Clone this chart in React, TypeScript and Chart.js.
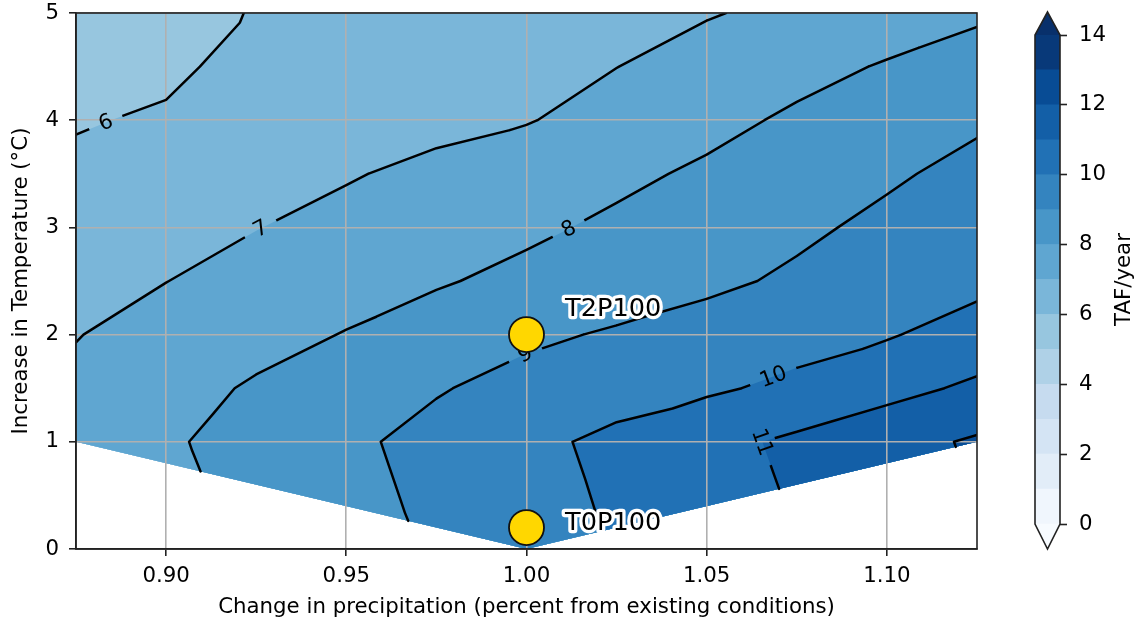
import React, { useEffect, useRef } from "react";
import { Chart, registerables } from "chart.js";

Chart.register(...registerables);

// ---------------- data ----------------
// Precipitation factors (x) and temperature increases (y) of the grid nodes
const precipNodes = [0.875, 0.9, 0.925, 0.95, 0.975, 1.0, 1.025, 1.05, 1.075, 1.1, 1.125];
const tempNodes = [1, 1.5, 2, 2.5, 3, 3.5, 4, 4.5, 5];

// TAF/year at each node, one array per temperature row
const tafT1_0 = [7.40, 7.88, 8.35, 8.82, 9.29, 9.76, 10.23, 10.71, 11.18, 11.65, 12.12];
const tafT1_5 = [7.18, 7.65, 8.11, 8.52, 8.93, 9.31, 9.60, 9.86, 10.22, 10.70, 11.17];
const tafT2_0 = [6.97, 7.33, 7.68, 8.04, 8.40, 8.83, 9.10, 9.36, 9.64, 9.92, 10.42];
const tafT2_5 = [6.70, 6.99, 7.30, 7.61, 7.92, 8.22, 8.52, 8.82, 9.14, 9.51, 9.74];
const tafT3_0 = [6.44, 6.71, 6.98, 7.26, 7.55, 7.84, 8.16, 8.50, 8.84, 9.19, 9.56];
const tafT3_5 = [6.19, 6.44, 6.69, 6.93, 7.22, 7.52, 7.81, 8.14, 8.51, 8.88, 9.24];
const tafT4_0 = [5.93, 6.11, 6.34, 6.55, 6.76, 6.95, 7.36, 7.75, 8.14, 8.51, 8.88];
const tafT4_5 = [5.68, 5.82, 6.30, 6.38, 6.57, 6.78, 6.99, 7.36, 7.73, 8.07, 8.37];
const tafT5_0 = [5.43, 5.75, 6.04, 6.22, 6.40, 6.58, 6.76, 6.94, 7.22, 7.54, 7.87];

// Existing conditions scenario (no warming, 100% precipitation)
const baseP = 1.0;
const baseT = 0;
const baseTaf = 9.57;

// Contour levels (filled bands and lines)
const contourLevels = [0, 1, 2, 3, 4, 5, 6, 7, 8, 9, 10, 11, 12, 13, 14];

// Contour labels: level and approximate anchor (data coordinates)
const labelLevels = [6, 7, 8, 9, 10, 11];
const labelP = [0.883, 0.926, 1.013, 1.0, 1.069, 1.0648];
const labelT = [4.0, 3.0, 2.9, 1.79, 1.56, 0.99];

// Scenario markers
const scenarioNames = ["T2P100", "T0P100"];
const scenarioP = [1.0, 1.0];
const scenarioT = [2.0, 0.2];
const scenarioTextP = [1.0107, 1.0107];
const scenarioTextT = [2.17, 0.18];

// Axis ticks
const xTicks = [0.9, 0.95, 1.0, 1.05, 1.1];
const colorbarTicks = [0, 2, 4, 6, 8, 10, 12, 14];

const xTitle = "Change in precipitation (percent from existing conditions)";
const yTitle = "Increase in Temperature (°C)";
const cbTitle = "TAF/year";

// ---------------- style ----------------
const FONT = '"DejaVu Sans", "Liberation Sans", sans-serif';
const FS = 21.3;
const BLUES = [
  [247, 251, 255], [222, 235, 247], [198, 219, 239], [158, 202, 225], [107, 174, 214],
  [66, 146, 198], [33, 113, 181], [8, 81, 156], [8, 48, 107],
];
function blues(t: number) {
  const c = Math.max(0, Math.min(1, t)) * (BLUES.length - 1);
  const i = Math.min(BLUES.length - 2, Math.floor(c));
  const f = c - i;
  const a = BLUES[i], b = BLUES[i + 1];
  const r = Math.round(a[0] + (b[0] - a[0]) * f);
  const g = Math.round(a[1] + (b[1] - a[1]) * f);
  const bb = Math.round(a[2] + (b[2] - a[2]) * f);
  return `rgb(${r},${g},${bb})`;
}
const lvMin = contourLevels[0];
const lvMax = contourLevels[contourLevels.length - 1];
function bandColor(k: number) {
  const mid = (contourLevels[k] + contourLevels[k + 1]) / 2;
  return blues((mid - lvMin) / (lvMax - lvMin));
}

// ---------------- triangulated field ----------------
type N = { x: number; y: number; v: number };
function buildTriangles(): N[][] {
  const rows = [tafT1_0, tafT1_5, tafT2_0, tafT2_5, tafT3_0, tafT3_5, tafT4_0, tafT4_5, tafT5_0];
  const nodes = rows.map((row, i) => row.map((v, j) => ({ x: precipNodes[j], y: tempNodes[i], v })));
  const tris: N[][] = [];
  for (let i = 0; i < rows.length - 1; i++) {
    for (let j = 0; j < precipNodes.length - 1; j++) {
      const a = nodes[i][j], b = nodes[i][j + 1], c = nodes[i + 1][j + 1], d = nodes[i + 1][j];
      tris.push([a, b, c], [a, c, d]);
    }
  }
  const base = { x: baseP, y: baseT, v: baseTaf };
  for (let j = 0; j < precipNodes.length - 1; j++) {
    tris.push([base, nodes[0][j + 1], nodes[0][j]]);
  }
  return tris;
}

function clipAbove(poly: N[], level: number): N[] {
  const out: N[] = [];
  for (let i = 0; i < poly.length; i++) {
    const a = poly[i], b = poly[(i + 1) % poly.length];
    const ina = a.v >= level, inb = b.v >= level;
    if (ina) out.push(a);
    if (ina !== inb) {
      const f = (level - a.v) / (b.v - a.v);
      out.push({ x: a.x + f * (b.x - a.x), y: a.y + f * (b.y - a.y), v: level });
    }
  }
  return out;
}

function levelSegments(tris: N[][], level: number) {
  const segs: { x: number; y: number }[][] = [];
  for (const t of tris) {
    const pts: { x: number; y: number }[] = [];
    for (let i = 0; i < 3; i++) {
      const p = t[i], q = t[(i + 1) % 3];
      if ((p.v < level) !== (q.v < level)) {
        const f = (level - p.v) / (q.v - p.v);
        pts.push({ x: p.x + f * (q.x - p.x), y: p.y + f * (q.y - p.y) });
      }
    }
    if (pts.length === 2) segs.push(pts);
  }
  return segs;
}

const TRIS = buildTriangles();

const contourPlugin = {
  id: "contourField",
  beforeDraw(chart: any) {
    const { ctx, chartArea: a, scales } = chart;
    const sx = scales.x, sy = scales.y;
    ctx.save();
    ctx.beginPath();
    ctx.rect(a.left, a.top, a.right - a.left, a.bottom - a.top);
    ctx.clip();
    for (let k = 0; k < contourLevels.length - 1; k++) {
      const lo = contourLevels[k];
      ctx.beginPath();
      for (const tri of TRIS) {
        const poly = clipAbove(tri, lo);
        if (poly.length < 3) continue;
        poly.forEach((p, i) => {
          const px = sx.getPixelForValue(p.x), py = sy.getPixelForValue(p.y);
          if (i === 0) ctx.moveTo(px, py);
          else ctx.lineTo(px, py);
        });
        ctx.closePath();
      }
      ctx.fillStyle = bandColor(k);
      ctx.fill();
    }
    ctx.restore();
  },
  beforeDatasetsDraw(chart: any) {
    const { ctx, chartArea: a, scales } = chart;
    const sx = scales.x, sy = scales.y;
    const toPx = (p: { x: number; y: number }) => ({ x: sx.getPixelForValue(p.x), y: sy.getPixelForValue(p.y) });
    const segsByLevel = contourLevels.map((lv) => levelSegments(TRIS, lv).map((s) => [toPx(s[0]), toPx(s[1])]));

    ctx.save();
    ctx.font = `${FS}px ${FONT}`;
    const labels = labelLevels.map((lv, i) => {
      const segs = segsByLevel[contourLevels.indexOf(lv)];
      const px = sx.getPixelForValue(labelP[i]), py = sy.getPixelForValue(labelT[i]);
      let best = { d: Infinity, x: px, y: py, ang: 0 };
      for (const [p, q] of segs) {
        const dx = q.x - p.x, dy = q.y - p.y;
        const L2 = dx * dx + dy * dy;
        if (L2 === 0) continue;
        let t = ((px - p.x) * dx + (py - p.y) * dy) / L2;
        t = Math.max(0, Math.min(1, t));
        const cx = p.x + t * dx, cy = p.y + t * dy;
        const d = Math.hypot(cx - px, cy - py);
        if (d < best.d) {
          let ang = Math.atan2(dy, dx);
          if (ang > Math.PI / 2) ang -= Math.PI;
          if (ang <= -Math.PI / 2) ang += Math.PI;
          best = { d, x: cx, y: cy, ang };
        }
      }
      const text = String(lv);
      const w = ctx.measureText(text).width;
      return { text, x: best.x, y: best.y, ang: best.ang, hw: w / 2 + 11, hh: 13 };
    });

    // clip out label gaps
    ctx.beginPath();
    ctx.rect(a.left - 5, a.top - 5, a.right - a.left + 10, a.bottom - a.top + 10);
    for (const l of labels) {
      const c = Math.cos(l.ang), s = Math.sin(l.ang);
      const corners = [[-l.hw, -l.hh], [l.hw, -l.hh], [l.hw, l.hh], [-l.hw, l.hh]].map(([u, v]) => [l.x + u * c - v * s, l.y + u * s + v * c]);
      ctx.moveTo(corners[0][0], corners[0][1]);
      for (let i = 1; i < 4; i++) ctx.lineTo(corners[i][0], corners[i][1]);
      ctx.closePath();
    }
    ctx.clip("evenodd");
    ctx.beginPath();
    ctx.rect(a.left, a.top, a.right - a.left, a.bottom - a.top);
    ctx.clip();
    ctx.strokeStyle = "#000";
    ctx.lineWidth = 2.5;
    ctx.lineCap = "round";
    ctx.lineJoin = "round";
    ctx.beginPath();
    for (const segs of segsByLevel) {
      for (const [p, q] of segs) {
        ctx.moveTo(p.x, p.y);
        ctx.lineTo(q.x, q.y);
      }
    }
    ctx.stroke();
    ctx.restore();

    ctx.save();
    ctx.font = `${FS}px ${FONT}`;
    ctx.fillStyle = "#000";
    ctx.textAlign = "center";
    ctx.textBaseline = "middle";
    for (const l of labels) {
      ctx.save();
      ctx.translate(l.x, l.y);
      ctx.rotate(l.ang);
      ctx.fillText(l.text, 0, 1);
      ctx.restore();
    }
    ctx.restore();
  },
  afterDatasetsDraw(chart: any) {
    const { ctx, chartArea: a, scales } = chart;
    const sx = scales.x, sy = scales.y;
    ctx.save();
    ctx.strokeStyle = "#222";
    ctx.lineWidth = 1.6;
    ctx.strokeRect(a.left, a.top, a.right - a.left, a.bottom - a.top);
    ctx.font = `25.6px ${FONT}`;
    ctx.textAlign = "left";
    ctx.textBaseline = "alphabetic";
    ctx.lineJoin = "round";
    scenarioNames.forEach((name, i) => {
      const x = sx.getPixelForValue(scenarioTextP[i]);
      const y = sy.getPixelForValue(scenarioTextT[i]);
      ctx.strokeStyle = "#fff";
      ctx.lineWidth = 6.5;
      ctx.strokeText(name, x, y);
      ctx.fillStyle = "#000";
      ctx.fillText(name, x, y);
    });
    ctx.restore();
  },
};

const colorbarPlugin = {
  id: "colorbarExtras",
  afterDraw(chart: any) {
    const { ctx, chartArea: a } = chart;
    const mid = (a.left + a.right) / 2;
    const tipUp = 23, tipDown = 25;
    ctx.save();
    ctx.fillStyle = blues(1);
    ctx.beginPath();
    ctx.moveTo(a.left, a.top);
    ctx.lineTo(mid, a.top - tipUp);
    ctx.lineTo(a.right, a.top);
    ctx.closePath();
    ctx.fill();
    ctx.fillStyle = blues(0);
    ctx.beginPath();
    ctx.moveTo(a.left, a.bottom);
    ctx.lineTo(mid, a.bottom + tipDown);
    ctx.lineTo(a.right, a.bottom);
    ctx.closePath();
    ctx.fill();
    ctx.strokeStyle = "#222";
    ctx.lineWidth = 1.6;
    ctx.lineJoin = "miter";
    ctx.beginPath();
    ctx.moveTo(a.left, a.bottom);
    ctx.lineTo(a.left, a.top);
    ctx.lineTo(mid, a.top - tipUp);
    ctx.lineTo(a.right, a.top);
    ctx.lineTo(a.right, a.bottom);
    ctx.lineTo(mid, a.bottom + tipDown);
    ctx.closePath();
    ctx.stroke();
    ctx.font = `${FS}px ${FONT}`;
    ctx.fillStyle = "#000";
    ctx.textAlign = "center";
    ctx.textBaseline = "middle";
    ctx.translate(124, (a.top + a.bottom) / 2);
    ctx.rotate(-Math.PI / 2);
    ctx.fillText(cbTitle, 0, 0);
    ctx.restore();
  },
};

export default function App() {
  const mainRef = useRef<HTMLCanvasElement>(null);
  const cbRef = useRef<HTMLCanvasElement>(null);

  useEffect(() => {
    const tickFont = { family: FONT, size: FS };
    const main = new Chart(mainRef.current as HTMLCanvasElement, {
      type: "scatter",
      data: {
        datasets: [
          {
            data: scenarioP.map((p, i) => ({ x: p, y: scenarioT[i] })),
            pointRadius: 17.5,
            pointHoverRadius: 17.5,
            backgroundColor: "#FFD700",
            borderColor: "#111",
            borderWidth: 1.8,
            clip: false as any,
          },
        ],
      },
      options: {
        responsive: false,
        maintainAspectRatio: false,
        animation: false,
        devicePixelRatio: 1,
        events: [],
        layout: { autoPadding: false, padding: { left: 0, right: 23, top: 13, bottom: 0 } },
        plugins: { legend: { display: false }, tooltip: { enabled: false } },
        scales: {
          x: {
            type: "linear",
            min: 0.875,
            max: 1.125,
            afterBuildTicks: (axis: any) => {
              axis.ticks = xTicks.map((value) => ({ value }));
            },
            afterFit: (axis: any) => {
              axis.height = 74;
              axis.paddingLeft = 0;
              axis.paddingRight = 0;
            },
            ticks: {
              autoSkip: false,
              maxRotation: 0,
              padding: 8,
              color: "#000",
              font: tickFont,
              callback: (v: any) => Number(v).toFixed(2),
            },
            grid: { color: "#b0b0b0", lineWidth: 1.6, tickLength: 7, tickColor: "#222", tickWidth: 1.6 },
            border: { display: true, color: "#222", width: 1.6 },
            title: { display: true, text: xTitle, color: "#000", font: tickFont, padding: { top: 0, bottom: 3 } },
          },
          y: {
            type: "linear",
            min: 0,
            max: 5,
            afterFit: (axis: any) => {
              axis.width = 76;
              axis.paddingTop = 0;
              axis.paddingBottom = 0;
            },
            ticks: { stepSize: 1, padding: 10, color: "#000", font: tickFont },
            grid: { color: "#b0b0b0", lineWidth: 1.6, tickLength: 7, tickColor: "#222", tickWidth: 1.6 },
            border: { display: true, color: "#222", width: 1.6 },
            title: { display: true, text: yTitle, color: "#000", font: tickFont, padding: { top: 9, bottom: 0 } },
          },
        },
      },
      plugins: [contourPlugin],
    } as any);

    const bands = contourLevels.slice(0, -1).map((lo, k) => ({
      data: [contourLevels[k + 1] - lo],
      backgroundColor: bandColor(k),
      borderWidth: 0,
      barPercentage: 1,
      categoryPercentage: 1,
    }));
    const cb = new Chart(cbRef.current as HTMLCanvasElement, {
      type: "bar",
      data: { labels: [cbTitle], datasets: bands },
      options: {
        responsive: false,
        maintainAspectRatio: false,
        animation: false,
        devicePixelRatio: 1,
        events: [],
        layout: { autoPadding: false, padding: { left: 35, right: 0, top: 35, bottom: 99 } },
        plugins: { legend: { display: false }, tooltip: { enabled: false } },
        scales: {
          x: { display: false, stacked: true },
          y: {
            stacked: true,
            position: "right",
            min: lvMin,
            max: lvMax,
            afterBuildTicks: (axis: any) => {
              axis.ticks = colorbarTicks.map((value) => ({ value }));
            },
            afterFit: (axis: any) => {
              axis.width = 81;
              axis.paddingTop = 0;
              axis.paddingBottom = 0;
            },
            ticks: { padding: 12, color: "#000", font: tickFont },
            grid: { drawOnChartArea: false, tickLength: 7, tickColor: "#222", tickWidth: 1.6 },
            border: { display: false },
          },
        },
      },
      plugins: [colorbarPlugin],
    } as any);

    return () => {
      main.destroy();
      cb.destroy();
    };
  }, []);

  return (
    <div style={{ position: "fixed", left: 0, top: 0, width: 1141, height: 623, background: "#fff", overflow: "hidden" }}>
      <canvas ref={mainRef} width={1000} height={623} style={{ position: "absolute", left: 0, top: 0, width: 1000, height: 623 }} />
      <canvas ref={cbRef} width={141} height={623} style={{ position: "absolute", left: 1000, top: 0, width: 141, height: 623 }} />
    </div>
  );
}
